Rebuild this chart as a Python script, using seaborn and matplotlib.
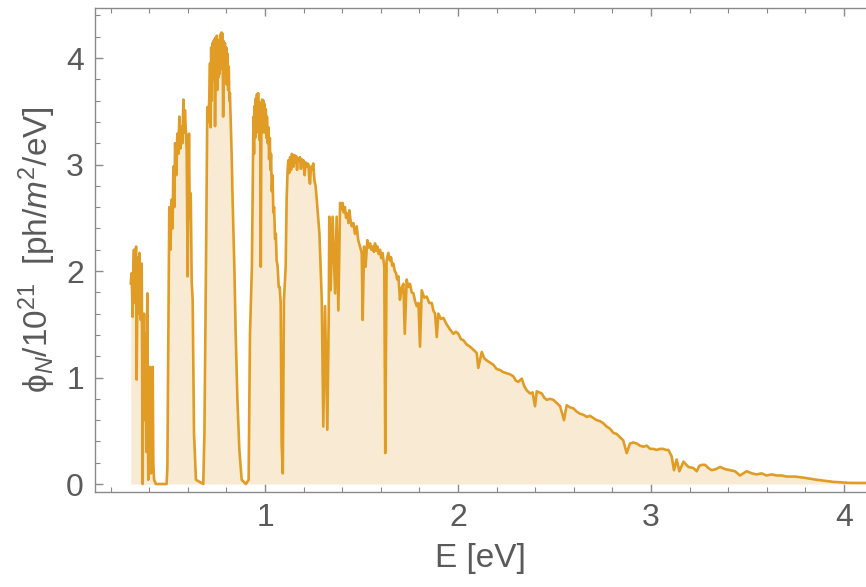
import matplotlib
matplotlib.use('Agg')
import numpy as np
import pandas as pd
import seaborn as sns
import matplotlib.pyplot as plt
from matplotlib.ticker import MultipleLocator

# photon energy [eV]
energy = [0.304, 0.309, 0.314, 0.318, 0.321, 0.325, 0.329, 0.332, 0.335, 0.340,
          0.344, 0.349, 0.352, 0.356, 0.361, 0.366, 0.370, 0.373, 0.377, 0.383,
          0.386, 0.390, 0.395, 0.400, 0.404, 0.409, 0.413, 0.418, 0.421, 0.425,
          0.435, 0.490, 0.494, 0.500, 0.504, 0.510, 0.516, 0.521, 0.525, 0.530,
          0.534, 0.540, 0.546, 0.551, 0.556, 0.562, 0.568, 0.572, 0.577, 0.581,
          0.585, 0.590, 0.594, 0.599, 0.606, 0.610, 0.615, 0.620, 0.625, 0.632,
          0.642, 0.680, 0.686, 0.694, 0.701, 0.706, 0.711, 0.715, 0.718, 0.721,
          0.724, 0.727, 0.730, 0.733, 0.736, 0.739, 0.741, 0.744, 0.747, 0.750,
          0.753, 0.756, 0.759, 0.762, 0.765, 0.768, 0.771, 0.774, 0.777, 0.780,
          0.783, 0.786, 0.789, 0.792, 0.795, 0.799, 0.802, 0.806, 0.809, 0.812,
          0.815, 0.818, 0.822, 0.827, 0.832, 0.841, 0.848, 0.857, 0.867, 0.879,
          0.901, 0.915, 0.922, 0.932, 0.937, 0.940, 0.943, 0.946, 0.949, 0.952,
          0.955, 0.958, 0.961, 0.964, 0.967, 0.971, 0.975, 0.978, 0.981, 0.985,
          0.988, 0.991, 0.994, 0.997, 1.000, 1.004, 1.007, 1.010, 1.014, 1.018,
          1.021, 1.025, 1.028, 1.031, 1.035, 1.039, 1.043, 1.047, 1.052, 1.056,
          1.060, 1.065, 1.071, 1.076, 1.081, 1.086, 1.092, 1.098, 1.107, 1.112,
          1.117, 1.121, 1.125, 1.130, 1.135, 1.139, 1.143, 1.148, 1.152, 1.157,
          1.161, 1.166, 1.170, 1.175, 1.181, 1.186, 1.190, 1.195, 1.199, 1.205,
          1.210, 1.215, 1.220, 1.225, 1.229, 1.233, 1.238, 1.244, 1.250, 1.256,
          1.262, 1.268, 1.282, 1.294, 1.302, 1.311, 1.323, 1.330, 1.333, 1.340,
          1.350, 1.363, 1.371, 1.380, 1.389, 1.395, 1.402, 1.408, 1.414, 1.420,
          1.427, 1.432, 1.437, 1.443, 1.449, 1.458, 1.466, 1.475, 1.483, 1.492,
          1.501, 1.506, 1.513, 1.521, 1.530, 1.537, 1.544, 1.551, 1.558, 1.564,
          1.570, 1.576, 1.582, 1.589, 1.596, 1.602, 1.609, 1.618, 1.623, 1.630,
          1.639, 1.646, 1.653, 1.659, 1.665, 1.672, 1.679, 1.685, 1.691,
          1.699, 1.708, 1.717, 1.724, 1.734, 1.742, 1.751, 1.760, 1.769, 1.777,
          1.786, 1.795, 1.803, 1.812, 1.825, 1.838, 1.851, 1.864, 1.872, 1.881,
          1.890, 1.898, 1.911, 1.924, 1.941, 1.959, 1.976, 1.989, 2.002, 2.015,
          2.028, 2.045, 2.062, 2.080, 2.097, 2.105, 2.123, 2.136, 2.149, 2.166,
          2.183, 2.200, 2.218, 2.235, 2.252, 2.270, 2.287, 2.300, 2.313, 2.330,
          2.343, 2.356, 2.373, 2.386, 2.399, 2.408, 2.421, 2.434, 2.447, 2.460,
          2.477, 2.494, 2.512, 2.529, 2.549, 2.563, 2.580, 2.598, 2.615, 2.632,
          2.650, 2.667, 2.684, 2.701, 2.718, 2.736, 2.753, 2.770, 2.787, 2.805,
          2.822, 2.839, 2.856, 2.874, 2.891, 2.909, 2.926, 2.943, 2.960, 2.978,
          2.995, 3.012, 3.029, 3.046, 3.064, 3.077, 3.090, 3.107, 3.119, 3.133,
          3.147, 3.168, 3.194, 3.219, 3.237, 3.250, 3.263, 3.280, 3.297, 3.314,
          3.336, 3.358, 3.383, 3.409, 3.435, 3.461, 3.496, 3.522, 3.547, 3.573,
          3.599, 3.625, 3.651, 3.677, 3.703, 3.745, 3.789, 3.823, 3.858, 3.900,
          3.945, 3.990, 4.031, 4.070, 4.114]

# photon flux / 1e21 [ph/m^2/eV]
flux = [1.88, 1.98, 1.57, 2.05, 2.20, 1.70, 2.15, 2.23, 0.98, 2.13,
        1.60, 2.17, 1.85, 1.54, 2.07, 0.00, 1.20, 1.60, 0.60, 1.41,
        0.30, 1.79, 0.04, 0.80, 1.10, 0.10, 0.16, 1.10, 0.20, 0.04,
        0.00, 0.00, 0.16, 1.60, 2.60, 2.20, 2.67, 2.40, 2.98, 2.60,
        3.20, 2.90, 3.29, 3.10, 3.45, 3.15, 3.36, 3.20, 3.61, 3.30,
        3.51, 3.30, 3.14, 1.95, 3.29, 2.50, 2.73, 1.90, 1.73, 0.48,
        0.04, 0.00, 0.48, 2.04, 3.54, 3.40, 3.61, 3.95, 3.35, 4.10,
        3.60, 4.14, 3.85, 4.16, 3.80, 4.18, 3.36, 4.19, 3.75, 4.21,
        3.70, 4.17, 3.82, 4.15, 3.85, 4.22, 3.90, 4.24, 3.95, 4.23,
        3.45, 4.16, 3.90, 4.14, 3.85, 4.10, 3.75, 4.04, 3.70, 3.92,
        3.60, 3.67, 3.40, 3.10, 2.67, 2.04, 1.41, 0.79, 0.32, 0.04,
        0.00, 0.04, 1.41, 2.04, 2.90, 3.45, 3.10, 3.55, 3.25, 3.62,
        3.30, 3.66, 3.35, 3.67, 3.40, 3.23, 3.58, 2.04, 3.40, 3.61,
        3.30, 3.60, 3.35, 3.57, 3.30, 3.52, 3.25, 3.45, 3.20, 3.35,
        3.05, 3.25, 2.95, 3.10, 2.75, 2.90, 2.55, 2.60, 2.30, 2.35,
        2.10, 2.05, 1.85, 1.85, 1.70, 0.38, 0.10, 1.73, 2.04, 2.67,
        2.95, 3.04, 2.92, 3.07, 2.95, 3.10, 3.08, 2.98, 3.09, 3.02,
        3.08, 2.95, 3.06, 3.04, 3.07, 2.96, 3.05, 3.02, 3.04, 2.90,
        3.02, 2.98, 3.01, 3.00, 2.88, 2.82, 2.98, 2.95, 3.01, 2.85,
        2.80, 2.67, 2.35, 1.73, 0.54, 1.67, 0.51, 1.57, 2.51, 1.82,
        2.51, 1.79, 2.51, 1.63, 2.64, 2.58, 2.64, 2.55, 2.60, 2.50,
        2.54, 2.45, 2.57, 2.48, 2.42, 2.45, 2.35, 2.42, 2.29, 2.23,
        2.17, 1.54, 2.23, 2.04, 2.29, 2.22, 2.26, 2.20, 2.23, 2.18,
        2.26, 2.19, 2.23, 2.16, 2.20, 2.12, 2.17, 2.04, 0.29, 2.10,
        2.17, 2.10, 2.13, 2.05, 2.07, 2.00, 1.98, 1.92, 1.95,
        1.73, 1.84, 1.88, 1.41, 1.92, 1.85, 1.88, 1.80, 1.79, 1.72,
        1.67, 1.70, 1.29, 1.82, 1.75, 1.76, 1.70, 1.70, 1.63, 1.60,
        1.38, 1.60, 1.55, 1.56, 1.50, 1.45, 1.41, 1.43, 1.41, 1.36,
        1.35, 1.31, 1.29, 1.26, 1.23, 1.09, 1.24, 1.18, 1.16, 1.14,
        1.12, 1.08, 1.07, 1.05, 1.04, 1.03, 1.01, 0.97, 0.96, 0.99,
        0.92, 0.88, 0.85, 0.86, 0.73, 0.87, 0.86, 0.85, 0.81, 0.79,
        0.80, 0.79, 0.76, 0.73, 0.60, 0.74, 0.72, 0.71, 0.68, 0.66,
        0.65, 0.63, 0.64, 0.62, 0.60, 0.59, 0.57, 0.54, 0.52, 0.48,
        0.47, 0.44, 0.41, 0.29, 0.38, 0.39, 0.38, 0.36, 0.35, 0.36,
        0.33, 0.33, 0.32, 0.33, 0.33, 0.32, 0.32, 0.26, 0.13, 0.23,
        0.12, 0.21, 0.16, 0.15, 0.12, 0.17, 0.18, 0.18, 0.15, 0.13,
        0.14, 0.16, 0.14, 0.13, 0.12, 0.08, 0.12, 0.10, 0.09, 0.10,
        0.08, 0.09, 0.08, 0.08, 0.07, 0.07, 0.06, 0.05, 0.04, 0.03,
        0.02, 0.015, 0.01, 0.01, 0.01]

df = pd.DataFrame({'E': energy, 'phi': flux})

sns.set_style('ticks')
plt.rcParams['font.family'] = ['Liberation Sans', 'DejaVu Sans']
plt.rcParams['mathtext.fontset'] = 'custom'
plt.rcParams['mathtext.rm'] = 'Liberation Sans'
plt.rcParams['mathtext.it'] = 'Liberation Sans:italic'

line_col = '#e09c24'
fill_col = '#f9ebd3'
frame_col = '#8a8a8a'
text_col = '#5a5a5a'

fig = plt.figure(figsize=(8.66, 5.87), dpi=100)
ax = fig.add_axes([95 / 866, 95 / 587, 771 / 866, 484 / 587])

ax.fill_between(df['E'], df['phi'], 0, color=fill_col, linewidth=0)
sns.lineplot(data=df, x='E', y='phi', ax=ax, color=line_col, linewidth=1.9,
             estimator=None, sort=False)

ax.set_xlim(0.119, 4.114)
ax.set_ylim(-0.075, 4.47)
ax.xaxis.set_major_locator(MultipleLocator(1))
ax.xaxis.set_minor_locator(MultipleLocator(0.2))
ax.yaxis.set_major_locator(MultipleLocator(1))
ax.yaxis.set_minor_locator(MultipleLocator(0.2))

for side in ['left', 'bottom', 'top']:
    ax.spines[side].set_color(frame_col)
    ax.spines[side].set_linewidth(1.0)
ax.spines['right'].set_visible(False)

ax.tick_params(which='both', direction='in', top=True, right=False, color=frame_col)
ax.tick_params(which='major', length=6, width=1.0, labelsize=23,
               labelcolor=text_col, pad=8)
ax.tick_params(which='minor', length=3.5, width=0.8)

ax.set_xlabel('E [eV]', fontsize=24, color=text_col, labelpad=7)
ax.set_ylabel('\u03d5$_N$/10$^{21}$  [ph/$m^2$/eV]', fontsize=24, color=text_col,
              labelpad=6)

fig.savefig('out.png', dpi=100)
